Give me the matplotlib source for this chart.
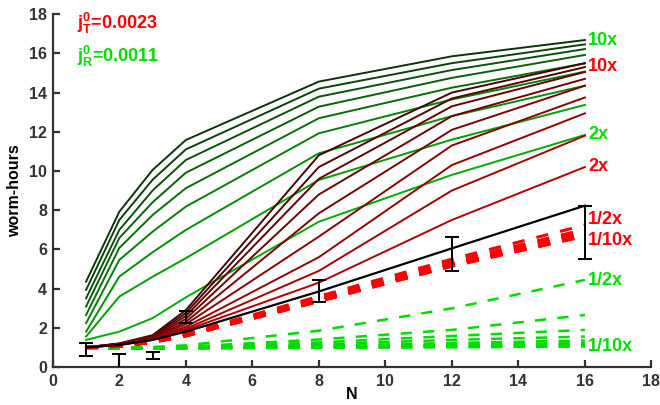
import matplotlib
matplotlib.use("Agg")
import matplotlib.pyplot as plt
import numpy as np

plt.rcParams['font.family'] = ['Liberation Sans', 'DejaVu Sans']
plt.rcParams['mathtext.fontset'] = 'custom'
plt.rcParams['mathtext.rm'] = 'Liberation Sans:bold'
plt.rcParams['mathtext.bf'] = 'Liberation Sans:bold'
plt.rcParams['mathtext.it'] = 'Liberation Sans:bold'

N = [1, 2, 3, 4, 8, 12, 16]

# model curves with the R-rate scaled up (10x ... 2x)
green_up = [
    [4.35, 7.92, 10.05, 11.58, 14.56, 15.85, 16.68],
    [3.93, 7.50, 9.55, 11.10, 14.20, 15.50, 16.46],
    [3.50, 6.99, 9.00, 10.56, 13.79, 15.15, 16.22],
    [3.08, 6.58, 8.40, 9.91, 13.28, 14.75, 15.92],
    [2.65, 6.07, 7.75, 9.12, 12.69, 14.25, 15.49],
    [2.23, 5.46, 6.90, 8.18, 11.92, 13.65, 15.07],
    [1.80, 4.61, 5.85, 6.99, 10.90, 12.80, 14.35],
    [1.55, 3.59, 4.60, 5.55, 9.54, 11.60, 13.37],
    [1.38, 1.80, 2.49, 3.55, 7.41, 9.80, 11.84],
]
# model curves with the T-rate scaled up (10x ... 2x)
red_up = [
    [1.00, 1.20, 1.62, 2.90, 10.80, 14.00, 15.50],
    [1.00, 1.19, 1.58, 2.75, 10.20, 13.70, 15.30],
    [1.00, 1.18, 1.55, 2.60, 9.60, 13.30, 15.05],
    [1.00, 1.17, 1.52, 2.45, 8.80, 12.80, 14.70],
    [1.00, 1.16, 1.49, 2.30, 7.84, 12.10, 14.35],
    [1.00, 1.15, 1.46, 2.18, 6.65, 11.30, 13.75],
    [1.00, 1.14, 1.43, 2.05, 5.60, 10.30, 12.94],
    [1.00, 1.13, 1.40, 1.95, 4.90, 9.00, 11.80],
    [1.00, 1.12, 1.38, 1.88, 4.30, 7.50, 10.20],
]
# model curves with the T-rate scaled down (1/2x ... 1/10x)
red_down = [
    [1.00, 1.08, 1.32, 1.70, 3.60, 5.50, 7.24],
    [1.00, 1.07, 1.30, 1.66, 3.50, 5.38, 7.02],
    [1.00, 1.06, 1.29, 1.64, 3.45, 5.30, 6.90],
    [1.00, 1.06, 1.28, 1.62, 3.42, 5.25, 6.83],
    [1.00, 1.05, 1.27, 1.61, 3.40, 5.22, 6.78],
    [1.00, 1.05, 1.27, 1.60, 3.38, 5.19, 6.74],
    [1.00, 1.05, 1.26, 1.59, 3.36, 5.17, 6.71],
    [1.00, 1.05, 1.26, 1.59, 3.35, 5.15, 6.69],
    [1.00, 1.05, 1.26, 1.58, 3.34, 5.14, 6.67],
]
# model curves with the R-rate scaled down (1/2x ... 1/10x)
green_down = [
    [0.95, 0.98, 1.02, 1.10, 1.85, 2.99, 4.44],
    [0.95, 0.96, 0.99, 1.03, 1.40, 1.89, 2.65],
    [0.95, 0.96, 0.97, 1.00, 1.25, 1.58, 1.89],
    [0.95, 0.95, 0.96, 0.98, 1.15, 1.38, 1.55],
    [0.95, 0.95, 0.95, 0.97, 1.08, 1.22, 1.35],
    [0.95, 0.95, 0.95, 0.96, 1.04, 1.13, 1.22],
    [0.95, 0.95, 0.95, 0.95, 1.01, 1.07, 1.14],
    [0.95, 0.95, 0.95, 0.95, 0.99, 1.03, 1.08],
    [0.95, 0.95, 0.95, 0.95, 0.98, 1.00, 1.04],
]
# baseline model
base = [1.00, 1.12, 1.38, 1.80, 3.85, 6.05, 8.23]

# measured worm-hours
meas_mean = [0.90, 0.20, 0.58, 2.55, 3.88, 5.76, 6.87]
meas_err = [0.32, 0.45, 0.17, 0.32, 0.58, 0.85, 1.36]

labels_green = ['10x', '2x', '1/2x', '1/10x']
labels_red = ['10x', '2x', '1/2x', '1/10x']

GREEN_TXT = '#00e000'
RED_TXT = '#ff0000'

fig = plt.figure(figsize=(6.6, 4.05), dpi=100)
ax = fig.add_axes([0.080, 0.094, 0.907, 0.871])

n = len(green_up)
for i, ys in enumerate(green_up):
    t = i / (n - 1)
    col = (0.05 * (1 - t), 0.20 + 0.48 * t, 0.05 * (1 - t))
    ax.plot(N, ys, color=col, lw=1.4, zorder=3)
for i, ys in enumerate(red_up):
    t = i / (n - 1)
    col = (0.28 + 0.42 * t, 0.02 * (1 - t), 0.02 * (1 - t))
    ax.plot(N, ys, color=col, lw=1.4, zorder=3)
for ys in green_down:
    ax.plot(N, ys, color='#00dd00', lw=1.8, dashes=(4.5, 4.5), zorder=3)
for ys in red_down:
    ax.plot(N, ys, color='#ff0000', lw=2.2, dashes=(4.0, 4.0), zorder=3)

ax.plot(N, base, color='black', lw=1.6, zorder=4)
ax.errorbar(N, meas_mean, yerr=meas_err, fmt='none', ecolor='black',
            elinewidth=1.4, capsize=5, capthick=1.4, zorder=5)

ax.set_xlim(0, 18)
ax.set_ylim(0, 18)
ax.set_xticks(range(0, 19, 2))
ax.set_yticks(range(0, 19, 2))
for s in ['top', 'right']:
    ax.spines[s].set_visible(False)
for s in ['left', 'bottom']:
    ax.spines[s].set_linewidth(1.6)
    ax.spines[s].set_color('#333333')
ax.tick_params(direction='in', length=5, width=1.6, color='#333333',
               labelsize=11.5, labelcolor='#333333')
ax.tick_params(axis='x', pad=5)
ax.tick_params(axis='y', pad=4)
for lab in ax.get_xticklabels() + ax.get_yticklabels():
    lab.set_fontweight('bold')
ax.set_xlabel('N', fontsize=11.5, fontweight='bold', labelpad=-1)
ax.set_ylabel('worm-hours', fontsize=11.5, fontweight='bold', labelpad=5)

# right-hand annotations
tx = 16.1
kw = dict(fontsize=13, fontweight='bold', va='center')
ax.text(tx, 16.65, labels_green[0], color=GREEN_TXT, **kw)
ax.text(tx, 15.32, labels_red[0], color=RED_TXT, **kw)
ax.text(tx, 11.84, labels_green[1], color=GREEN_TXT, **kw)
ax.text(tx, 10.22, labels_red[1], color=RED_TXT, **kw)
ax.text(tx, 7.53, labels_red[2], color=RED_TXT, **kw)
ax.text(tx, 6.43, labels_red[3], color=RED_TXT, **kw)
ax.text(tx, 4.39, labels_green[2], color=GREEN_TXT, **kw)
ax.text(tx, 1.04, labels_green[3], color=GREEN_TXT, **kw)

ax.text(0.72, 17.55, r'$\mathbf{j_T^0}$=0.0023', color=RED_TXT, **kw)
ax.text(0.72, 15.85, r'$\mathbf{j_R^0}$=0.0011', color=GREEN_TXT, **kw)

fig.savefig('out.png', dpi=100)
